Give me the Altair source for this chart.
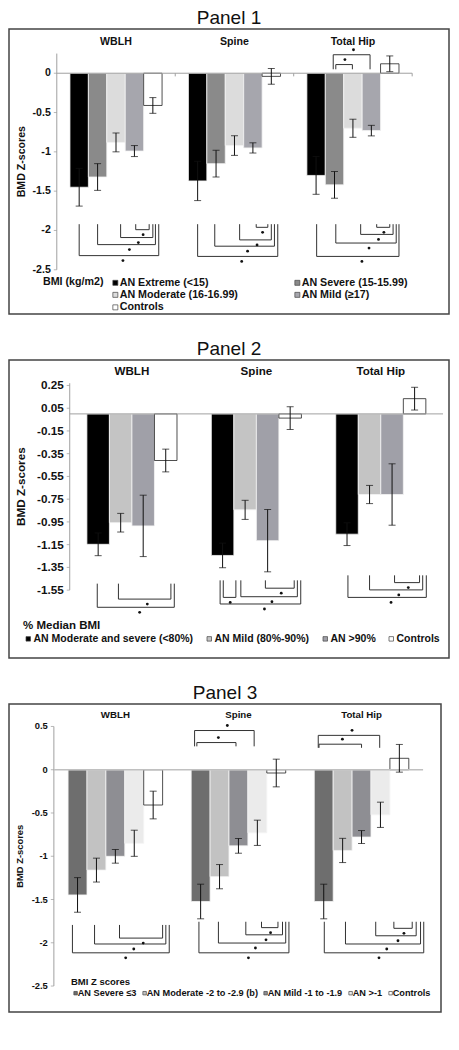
import altair as alt
import pandas as pd

FONT = "Liberation Sans"
groups = ["WBLH", "Spine", "Total Hip"]
axis_title = "BMD Z-scores"

# ---------------- Panel 1 ----------------
p1_series = ["AN Extreme (<15)", "AN Severe (15-15.99)", "AN Moderate (16-16.99)",
             "AN Mild (≥17)", "Controls"]
p1_colors = ["#000000", "#8a8a8a", "#dcdcdc", "#a6a6ad", "#ffffff"]
p1_mean = {
    "WBLH": [-1.45, -1.32, -0.88, -0.99, -0.41],
    "Spine": [-1.37, -1.15, -0.92, -0.95, -0.04],
    "Total Hip": [-1.30, -1.42, -0.70, -0.73, 0.12],
}
p1_err = {
    "WBLH": [0.24, 0.17, 0.12, 0.07, 0.10],
    "Spine": [0.25, 0.17, 0.125, 0.065, 0.10],
    "Total Hip": [0.24, 0.17, 0.115, 0.067, 0.10],
}
p1_ticks = [0, -0.5, -1, -1.5, -2, -2.5]
# (group, bar a, shift a, bar b, shift b, level, end of verticals)
p1_brackets = [
    (0, 0, 0.0, 4, 0.32, -2.32, -1.92), (0, 1, 0.0, 4, 0.14, -2.18, -1.92),
    (0, 2, 0.25, 4, 0.0, -2.09, -1.92), (0, 3, 0.07, 4, -0.2, -1.99, -1.92),
    (1, 0, 0.0, 4, 0.35, -2.33, -1.92), (1, 1, -0.07, 4, 0.17, -2.20, -1.92),
    (1, 2, 0.28, 4, 0.0, -2.12, -1.92), (1, 3, 0.18, 4, -0.19, -1.96, -1.92),
    (2, 0, 0.03, 4, 0.5, -2.33, -1.92), (2, 1, 0.07, 4, 0.35, -2.16, -1.92),
    (2, 2, 0.42, 4, 0.18, -2.05, -1.92), (2, 3, 0.29, 4, 0.0, -1.96, -1.92),
    (2, 1, 0.07, 2, -0.03, 0.11, 0.05), (2, 1, -0.07, 3, -0.07, 0.235, 0.05),
]

# ---------------- Panel 2 ----------------
p2_series = ["AN Moderate and severe (<80%)", "AN Mild (80%-90%)", "AN >90%", "Controls"]
p2_colors = ["#000000", "#c4c4c4", "#a0a0a8", "#ffffff"]
p2_mean = {
    "WBLH": [-1.147, -0.957, -0.985, -0.41],
    "Spine": [-1.245, -0.844, -1.115, -0.037],
    "Total Hip": [-1.058, -0.709, -0.709, 0.134],
}
p2_err = {
    "WBLH": [0.10, 0.082, 0.27, 0.10],
    "Spine": [0.108, 0.084, 0.274, 0.10],
    "Total Hip": [0.10, 0.08, 0.27, 0.10],
}
p2_ticks = [0.25, 0.05, -0.15, -0.35, -0.55, -0.75, -0.95, -1.15, -1.35, -1.55]
p2_brackets = [
    (0, 0, -0.04, 3, 0.38, -1.701, -1.493), (0, 1, -0.1, 3, 0.23, -1.629, -1.493),
    (1, 0, 0.03, 0, 0.59, -1.614, -1.464), (1, 1, -0.19, 3, 0.32, -1.608, -1.464),
    (1, 2, -0.1, 3, 0.18, -1.533, -1.464), (1, 0, -0.11, 3, 0.47, -1.672, -1.464),
    (2, 0, 0.04, 3, 0.52, -1.614, -1.42), (2, 1, 0.0, 3, 0.36, -1.548, -1.42),
    (2, 2, 0.11, 3, 0.22, -1.484, -1.42),
]

# ---------------- Panel 3 ----------------
p3_series = ["AN Severe ≤3", "AN Moderate -2 to -2.9 (b)", "AN Mild -1 to -1.9",
             "AN >-1", "Controls"]
p3_colors = ["#6e6e6e", "#c2c2c2", "#8e8e93", "#ebebeb", "#ffffff"]
p3_mean = {
    "WBLH": [-1.447, -1.16, -1.001, -0.85, -0.408],
    "Spine": [-1.523, -1.236, -0.88, -0.729, -0.038],
    "Total Hip": [-1.523, -0.933, -0.778, -0.521, 0.132],
}
p3_err = {
    "WBLH": [0.20, 0.138, 0.079, 0.151, 0.16],
    "Spine": [0.20, 0.14, 0.085, 0.146, 0.16],
    "Total Hip": [0.20, 0.14, 0.075, 0.146, 0.16],
}
p3_ticks = [0.5, 0, -0.5, -1, -1.5, -2, -2.5]
p3_brackets = [
    (0, 0, -0.27, 4, 0.85, -2.116, -1.794), (0, 1, -0.1, 4, 0.67, -2.014, -1.794),
    (0, 2, 0.22, 4, 0.5, -1.946, -1.794),
    (1, 0, -0.09, 4, 0.67, -2.116, -1.757), (1, 1, -0.06, 4, 0.5, -2.003, -1.757),
    (1, 2, 0.39, 4, 0.33, -1.908, -1.757), (1, 3, 0.22, 4, 0.09, -1.825, -1.757),
    (2, 0, 0.03, 4, 1.29, -2.116, -1.757), (2, 1, 0.15, 4, 1.12, -2.014, -1.757),
    (2, 3, -0.25, 4, 0.89, -1.919, -1.757), (2, 4, -0.29, 4, 0.68, -1.833, -1.757),
    (1, 0, -0.2, 2, -0.13, 0.314, 0.27), (1, 0, -0.32, 3, -0.17, 0.453, 0.27),
    (2, 0, -0.25, 2, 0.0, 0.295, 0.253), (2, 0, -0.29, 3, -0.04, 0.397, 0.253),
]


def bar_frame(series, means, errs, bw):
    rows = []
    n = len(series)
    for gi, g in enumerate(groups):
        for si, s in enumerate(series):
            xc = gi + (si - (n - 1) / 2) * bw
            m = means[g][si]
            e = errs[g][si]
            rows.append(dict(group=g, series=s, xc=xc, x0=xc - bw / 2, x1=xc + bw / 2,
                             mean=m, base=0.0, lo=m - e, hi=m + e))
    return pd.DataFrame(rows)


def bracket_frames(brackets, n, bw):
    segs, stars = [], []
    for gi, a, sa, b, sb, level, end in brackets:
        xa = gi + (a - (n - 1) / 2 + sa) * bw
        xb = gi + (b - (n - 1) / 2 + sb) * bw
        segs += [dict(x=xa, x2=xa, y=end, y2=level),
                 dict(x=xb, x2=xb, y=end, y2=level),
                 dict(x=xa, x2=xb, y=level, y2=level)]
        stars.append(dict(x=xa + 0.55 * (xb - xa), y=level, below=bool(end > level)))
    return pd.DataFrame(segs), pd.DataFrame(stars)


def panel(title, series, colors, means, errs, bw, xdom, ydom, ticks, axis_top,
          brackets, label_y, fs, axis_fs, title_off, legend, line_color,
          line_w, group_ticks):
    xs = alt.Scale(domain=xdom, nice=False, zero=False)
    ys = alt.Scale(domain=ydom, nice=False, zero=False)
    df = bar_frame(series, means, errs, bw)
    segs, stars = bracket_frames(brackets, len(series), bw)

    frame_rows = [dict(x=-0.5, x2=-0.5, y=min(ticks), y2=axis_top),
                  dict(x=-0.5, x2=2.5, y=0.0, y2=0.0)]
    if group_ticks:
        for gx in [0.5, 1.5, 2.5]:
            frame_rows.append(dict(x=gx, x2=gx, y=0.0, y2=-0.04))
    frame = pd.DataFrame(frame_rows)

    X = lambda f: alt.X(f, type="quantitative", scale=xs, axis=None)
    Y = lambda f: alt.Y(f, type="quantitative", scale=ys, axis=None)

    lines = alt.Chart(frame).mark_rule(color=line_color, strokeWidth=line_w).encode(
        x=X("x"), x2="x2", y=Y("y"), y2="y2")

    tick_df = pd.DataFrame({"v": ticks, "label": [f"{v:g}" for v in ticks],
                            "ax": [-0.5] * len(ticks)})
    tick_text = alt.Chart(tick_df).mark_text(
        align="right", baseline="middle", dx=-6, font=FONT, fontSize=axis_fs,
        fontWeight="bold", color="#111111").encode(x=X("ax"), y=Y("v"), text="label:N")
    tick_marks = alt.Chart(tick_df).mark_tick(
        orient="horizontal", size=3, thickness=1, color="#999999", xOffset=-1.5
    ).encode(x=X("ax"), y=Y("v"))
    ttl_df = pd.DataFrame({"t": [axis_title], "ax": [-0.5],
                           "ym": [(min(ticks) + axis_top) / 2]})
    ttl = alt.Chart(ttl_df).mark_text(
        angle=270, baseline="middle", align="center", xOffset=title_off, font=FONT,
        fontSize=axis_fs, fontWeight="bold", color="#111111"
    ).encode(x=X("ax"), y=Y("ym"), text="t:N")

    bars = alt.Chart(df).mark_bar(strokeWidth=0.8).encode(
        x=X("x0"), x2="x1", y=Y("mean"), y2="base",
        color=alt.Color("series:N", scale=alt.Scale(domain=series, range=colors),
                        legend=legend),
        stroke=alt.condition(alt.datum.series == "Controls", alt.value("#222222"),
                             alt.value("#f4f4f4")),
    )

    err_line = alt.Chart(df).mark_rule(color="#111111", strokeWidth=1).encode(
        x=X("xc"), y=Y("lo"), y2="hi")
    cap_lo = alt.Chart(df).mark_tick(color="#111111", orient="horizontal", size=7,
                                     thickness=1).encode(x=X("xc"), y=Y("lo"))
    cap_hi = alt.Chart(df).mark_tick(color="#111111", orient="horizontal", size=7,
                                     thickness=1).encode(x=X("xc"), y=Y("hi"))

    br = alt.Chart(segs).mark_rule(color="#333333", strokeWidth=1).encode(
        x=X("x"), x2="x2", y=Y("y"), y2="y2")
    st_below = alt.Chart(stars).transform_filter("datum.below").mark_circle(
        color="#111111", size=8, opacity=1, yOffset=5).encode(x=X("x"), y=Y("y"))
    st_above = alt.Chart(stars).transform_filter("!datum.below").mark_circle(
        color="#111111", size=8, opacity=1, yOffset=-5).encode(x=X("x"), y=Y("y"))

    labels = alt.Chart(pd.DataFrame({"group": groups, "gi": [0, 1, 2],
                                     "ly": [label_y] * 3})).mark_text(
        font=FONT, fontSize=fs, fontWeight="bold", color="#111111").encode(
        x=X("gi"), y=Y("ly"), text="group:N")

    return alt.layer(bars, lines, tick_marks, tick_text, ttl, err_line, cap_lo, cap_hi,
                     br, st_below, st_above, labels).properties(
        title=alt.Title(title, fontSize=19, fontWeight="normal", font=FONT,
                        color="#111111", anchor="middle", offset=1))


def legend_params(title, x, y, cols, colpad, title_orient, tfs, lfs, tpad,
                  sym, loff):
    return alt.Legend(
        title=title, orient="none", legendX=x, legendY=y, direction="horizontal",
        columns=cols, columnPadding=colpad, rowPadding=0.5, symbolType="square",
        symbolSize=sym, symbolStrokeColor="#444444", symbolStrokeWidth=0.7,
        labelFont=FONT, labelFontSize=lfs, labelFontWeight="bold",
        labelColor="#111111", labelOffset={"expr": str(loff)}, labelLimit=400,
        titleFont=FONT, titleFontSize=tfs, titleFontWeight="bold",
        titleColor="#111111", titleOrient=title_orient, titleAnchor="start",
        titlePadding=tpad)


p1 = panel("Panel 1", p1_series, p1_colors, p1_mean, p1_err, 0.1555,
           [-0.9034, 2.811], [-3.0625, 0.5625], p1_ticks, 0.25, p1_brackets, 0.40,
           10.6, 10.6, -35,
           legend_params("BMI (kg/m2)", 34, 248, 2, 54, "left", 10.7, 10.7, 6, 25, -1),
           "#a0a0a0", 1, True).properties(width=440, height=285)

p2 = panel("Panel 2", p2_series, p2_colors, p2_mean, p2_err, 0.181,
           [-0.988, 2.548], [-2.147, 0.474], p2_ticks, 0.27, p2_brackets, 0.367,
           11.6, 11.7, -49,
           legend_params("% Median BMI", 14, 260, 4, 10, "top", 11.5, 10.5, 2, 20, 0),
           "#a0a0a0", 1, False).properties(width=440, height=298)

p3 = panel("Panel 3", p3_series, p3_colors, p3_mean, p3_err, 0.1536,
           [-0.864, 2.6455], [-2.80, 0.7595], p3_ticks, 0.5, p3_brackets, 0.631,
           9.7, 9.4, -34,
           legend_params("BMI  Z scores", 62, 273, 5, 3, "top", 9.5, 9.2, 2, 12, -2.5),
           "#c0c0c0", 1.5, False).properties(width=432, height=308)

chart = alt.vconcat(p1, p2, p3, spacing=24).resolve_scale(
    color="independent", x="independent", y="independent").properties(
    padding={"left": 0, "top": 0, "right": 0, "bottom": 0}).configure_view(
    stroke="#444444", strokeWidth=1.5)

chart.save("out.html", embed_options={"renderer": "svg", "actions": False})
